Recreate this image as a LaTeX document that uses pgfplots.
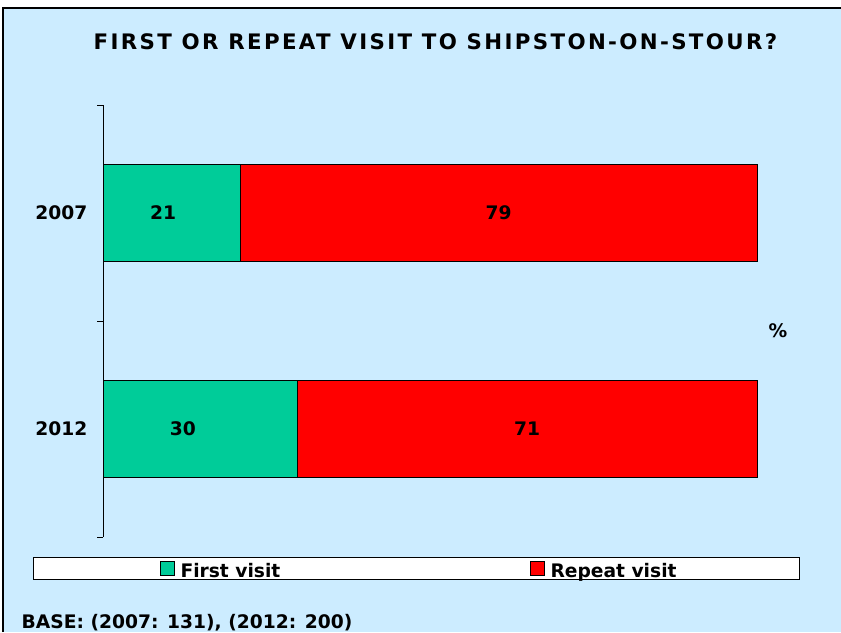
\documentclass[border=0pt]{standalone}
\usepackage{pgfplots}
\pgfplotsset{compat=1.18}
\usepackage{pgfplotstable}
\usepackage{fontspec}
\setmainfont{DejaVu Sans}
\newfontfamily\titlefont{DejaVu Sans}[LetterSpace=11]
\definecolor{bgblue}{HTML}{CCECFF}
\definecolor{firstc}{HTML}{00CC99}
\definecolor{repeatc}{HTML}{FF0000}
\pgfplotstableread{
y first repeat
0.5 21 79
1.5 29.7 70.3
}\bars
\pgfplotstableread{
x y lab
9.2 0.5 21
60.5 0.5 79
12.2 1.5 30
64.85 1.5 71
}\labels
\pgfplotsset{mygeom/.style={scale only axis, width=490.5pt, height=324pt,
  at={(77.25pt,-402.75pt)}, anchor=south west, xmin=0, xmax=100, ymin=0, ymax=2,
  y dir=reverse, clip=false, enlarge x limits=false, enlarge y limits=false}}
\newcommand{\lblfont}{\fontsize{14}{16}\selectfont\bfseries}
\begin{document}
\begin{tikzpicture}
\useasboundingbox (0,0) rectangle (630.75pt,-474pt);
\fill[bgblue] (2.1pt,-5.85pt) rectangle (630.75pt,-474pt);
\draw[line width=1.7pt] (2.1pt,-474pt) -- (2.1pt,-5.85pt) -- (630.75pt,-5.85pt);
\node[anchor=base, font=\titlefont\fontsize{16}{19}\selectfont\bfseries] at (326.6pt,-36.75pt) {FIRST OR REPEAT VISIT TO SHIPSTON-ON-STOUR?};
\begin{axis}[mygeom, hide x axis, axis y line*=left,
  y axis line style={line width=0.75pt, black},
  ytick={0.5,1.5}, yticklabels={2007,2012}, major tick length=0pt,
  minor ytick={0,1,2}, minor tick length=4.5pt, tick align=outside,
  tick style={black, line width=0.75pt},
  yticklabel style={font=\lblfont, xshift=-8.25pt},
  xbar stacked, bar width=0.45,
  legend style={at={(-0.10703,-0.0463)}, anchor=north west, draw=black, line width=0.75pt,
    fill=white, legend columns=2, inner xsep=94.5pt, inner ysep=0.75pt, font=\lblfont,
    nodes={inner sep=0pt, text height=14.25pt, text depth=0.75pt},
    /tikz/every odd column/.style={column sep=4.5pt},
    /tikz/every even column/.style={column sep=0pt}}]
\addplot[fill=firstc, draw=black, line width=0.75pt,
  legend image code/.code={\draw[fill=firstc, draw=black, line width=0.75pt] (0pt,-5.6pt) rectangle (10.5pt,5.6pt);}]
  table[x=first, y=y] {\bars};
\addlegendentry{\makebox[261.75pt][l]{First visit}}
\addplot[fill=repeatc, draw=black, line width=0.75pt,
  legend image code/.code={\draw[fill=repeatc, draw=black, line width=0.75pt] (0pt,-5.6pt) rectangle (10.5pt,5.6pt);}]
  table[x=repeat, y=y] {\bars};
\addlegendentry{\makebox[92.25pt][l]{Repeat visit}}
\end{axis}
\begin{axis}[mygeom, hide axis]
\addplot[draw=none, nodes near coords, point meta=explicit symbolic,
  every node near coord/.style={anchor=center, font=\lblfont}]
  table[x=x, y=y, meta=lab] {\labels};
\end{axis}
\node[font=\lblfont] at (583.5pt,-248.25pt) {\%};
\node[anchor=base west, inner sep=0pt, font=\lblfont] at (16.1pt,-471pt) {BASE: (2007: 131), (2012: 200)};
\end{tikzpicture}
\end{document}
